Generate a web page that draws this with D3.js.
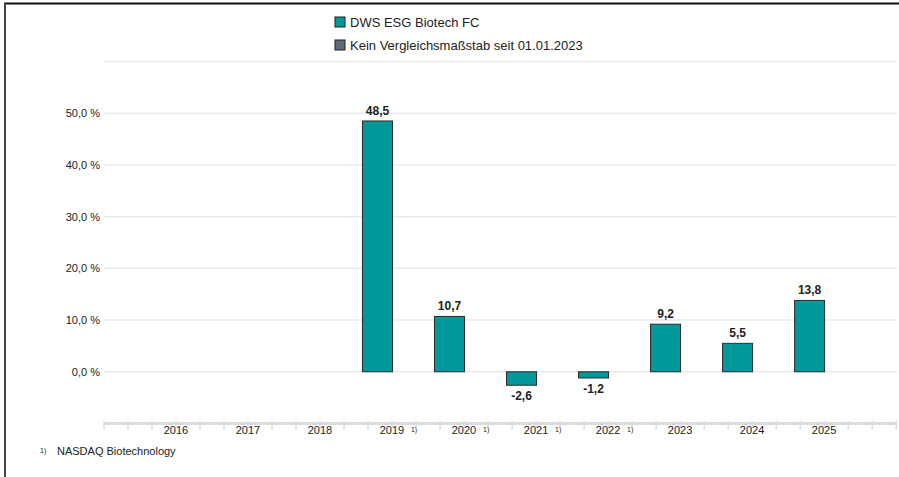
<!DOCTYPE html>
<html lang="de">
<head>
    <meta charset="UTF-8">
    <title>DWS ESG Biotech FC</title>
    <script src="https://d3js.org/d3.v7.min.js"></script>
    <style>
        body { margin: 0; background: #fff; }
        svg { display: block; font-family: Arial, "Liberation Sans", sans-serif; }
    </style>
</head>
<body>
    <svg width="899" height="477"></svg>
    <script>
        const years = ['2016', '2017', '2018', '2019', '2020', '2021', '2022', '2023', '2024', '2025']
        const fundValues = [null, null, null, 48.5, 10.7, -2.6, -1.2, 9.2, 5.5, 13.8]
        const footnoteYears = ['2019', '2020', '2021', '2022']
        const yTicks = [0, 10, 20, 30, 40, 50]
        const legendItems = ['DWS ESG Biotech FC', 'Kein Vergleichsmaßstab seit 01.01.2023']
        const legendColors = ['#00999a', '#5d6d76']

        const svg = d3.select('svg')
        // german decimal comma, plain hyphen as minus
        const fmt = v => d3.format('.1f')(v).replace('.', ',').replace('\u2212', '-')

        // frame
        svg.append('line').attr('x1', 4).attr('x2', 899).attr('y1', 3.5).attr('y2', 3.5)
            .attr('stroke', '#111').attr('stroke-width', 2)
        svg.append('line').attr('x1', 5).attr('x2', 5).attr('y1', 3).attr('y2', 477)
            .attr('stroke', '#444').attr('stroke-width', 2)

        const xLeft = 104, xRight = 897
        const x = d3.scaleBand().domain(years).range([125.5, 845.5]).paddingInner(0.583).paddingOuter(0.29)
        const y = d3.scaleLinear().domain([-10, 60]).range([423.5, 61.5])

        // grid
        svg.append('g').selectAll('line').data([...yTicks, 60]).join('line')
            .attr('x1', xLeft).attr('x2', xRight)
            .attr('y1', d => y(d)).attr('y2', d => y(d))
            .attr('stroke', '#e9e9e9').attr('stroke-width', 1.5)

        svg.append('g').selectAll('text').data(yTicks).join('text')
            .attr('x', 100).attr('y', d => y(d) + 4)
            .attr('text-anchor', 'end').attr('font-size', 11).attr('fill', '#222')
            .text(d => fmt(d) + ' %')

        // x axis baseline with minor ticks
        const step = x.step() / 3
        const tickPos = d3.range(xLeft, xRight + 1, step)
        svg.append('line').attr('x1', xLeft).attr('x2', xRight)
            .attr('y1', y(-10)).attr('y2', y(-10))
            .attr('stroke', '#dcdcdc').attr('stroke-width', 3)
        svg.append('g').selectAll('line').data(tickPos).join('line')
            .attr('x1', d => d).attr('x2', d => d)
            .attr('y1', y(-10) - 3).attr('y2', y(-10) + 6)
            .attr('stroke', '#dcdcdc').attr('stroke-width', 1.5)

        const xl = svg.append('g').selectAll('g').data(years).join('g')
            .attr('transform', d => `translate(${x(d) + x.bandwidth() / 2 + 14.5},${y(-10) + 10})`)
        xl.append('rect').attr('x', -17).attr('y', -6).attr('width', 34).attr('height', 14).attr('fill', '#fff')
        xl.append('text').attr('text-anchor', 'middle').attr('font-size', 11).attr('fill', '#222')
            .text(d => d)
        const fn = xl.filter(d => footnoteYears.includes(d))
        fn.append('rect').attr('x', 17).attr('y', -6).attr('width', 12).attr('height', 14).attr('fill', '#fff')
        fn.append('text').attr('x', 19).attr('y', -2).attr('font-size', 7).attr('fill', '#222').text('1)')

        // bars
        const data = years.map((d, i) => ({ year: d, value: fundValues[i] })).filter(d => d.value !== null)
        svg.append('g').selectAll('rect').data(data).join('rect')
            .attr('x', d => x(d.year))
            .attr('width', x.bandwidth())
            .attr('y', d => y(Math.max(0, d.value)))
            .attr('height', d => Math.abs(y(d.value) - y(0)))
            .attr('fill', '#00999a').attr('stroke', '#2b2b2b').attr('stroke-width', 1)

        svg.append('g').selectAll('text').data(data).join('text')
            .attr('x', d => x(d.year) + x.bandwidth() / 2)
            .attr('y', d => d.value >= 0 ? y(d.value) - 6 : y(d.value) + 15)
            .attr('text-anchor', 'middle').attr('font-size', 12).attr('font-weight', 'bold').attr('fill', '#222')
            .text(d => fmt(d.value))

        // legend
        const lg = svg.append('g').selectAll('g').data(legendItems).join('g')
            .attr('transform', (d, i) => `translate(335,${22 + i * 23})`)
        lg.append('rect').attr('x', 0).attr('y', -5).attr('width', 10).attr('height', 10)
            .attr('fill', (d, i) => legendColors[i]).attr('stroke', '#222').attr('stroke-width', 1)
        lg.append('text').attr('x', 15).attr('y', 4.5).attr('font-size', 13).attr('fill', '#222').text(d => d)

        // footnote
        svg.append('text').attr('x', 40).attr('y', 453).attr('font-size', 7).attr('fill', '#222').text('1)')
        svg.append('text').attr('x', 57).attr('y', 455).attr('font-size', 11).attr('fill', '#222').text('NASDAQ Biotechnology')
    </script>
</body>
</html>
